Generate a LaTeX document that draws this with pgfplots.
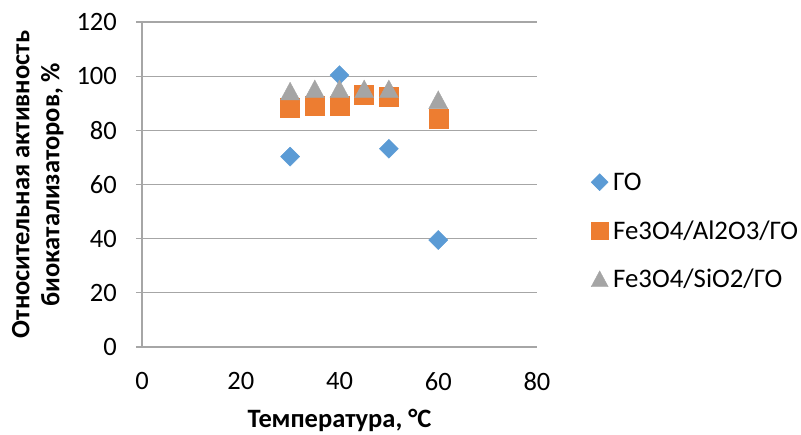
\documentclass[border=0pt]{standalone}
\usepackage{pgfplots}
\pgfplotsset{compat=1.18}
\usepackage{fontspec}
\setmainfont{Carlito}

\definecolor{goBlue}{HTML}{5B9BD5}
\definecolor{alOrange}{HTML}{ED7D31}
\definecolor{siGray}{HTML}{A5A5A5}
\definecolor{lineGray}{HTML}{A6A6A6}

% Excel-like markers
\pgfdeclareplotmark{xdiamond}{%
  \pgfpathmoveto{\pgfqpoint{0pt}{\pgfplotmarksize}}%
  \pgfpathlineto{\pgfqpoint{\pgfplotmarksize}{0pt}}%
  \pgfpathlineto{\pgfqpoint{0pt}{-\pgfplotmarksize}}%
  \pgfpathlineto{\pgfqpoint{-\pgfplotmarksize}{0pt}}%
  \pgfpathclose\pgfusepathqfillstroke}
\pgfdeclareplotmark{xtriangle}{%
  \pgfpathmoveto{\pgfqpoint{0pt}{0.93\pgfplotmarksize}}%
  \pgfpathlineto{\pgfqpoint{\pgfplotmarksize}{-0.93\pgfplotmarksize}}%
  \pgfpathlineto{\pgfqpoint{-\pgfplotmarksize}{-0.93\pgfplotmarksize}}%
  \pgfpathclose\pgfusepathqfillstroke}

\pgfplotsset{mkleg/.style={legend image code/.code={%
  \draw[mark repeat=2,mark phase=2,##1] plot coordinates {(0pt,0pt)(9.5pt,0pt)(19pt,0pt)};}}}

\begin{document}
\fontsize{26.5}{30}\selectfont
\begin{tikzpicture}
\useasboundingbox (-142pt,-87pt) rectangle (659pt,347pt);
\begin{axis}[
    scale only axis,
    width=395pt, height=325pt,
    at={(0pt,0pt)}, anchor=south west,
    xmin=0, xmax=80,
    ymin=0, ymax=120,
    xtick={0,20,...,80},
    ytick={0,20,...,120},
    axis x line*=bottom, axis y line*=left,
    axis line style={lineGray, line width=1.3pt, -},
    ymajorgrids=true,
    grid style={lineGray, line width=1.3pt},
    tick align=outside, major tick length=6pt,
    xtick style={draw=none},
    ytick style={lineGray, line width=1.3pt},
    /pgf/number format/assume math mode=true,
    yticklabel style={inner sep=0pt, xshift=-19pt},
    xticklabel style={inner sep=0pt, yshift=-19pt},
    xlabel={Температура, °C},
    ylabel={Относительная активность\\биокатализаторов, \%},
    every axis x label/.style={at={(axis description cs:0.5,-0.249)}, anchor=base, inner sep=0pt, font=\bfseries},
    every axis y label/.style={at={(axis description cs:-0.264,0.5)}, rotate=90, anchor=center, align=center, inner sep=0pt, font=\bfseries},
    clip=false,
    mark size=9.5pt,
    legend style={draw=none, fill=none,
        font=\fontsize{26.8}{30}\selectfont,
        at={(axis description cs:1.1367,0.5455)}, anchor=north west,
        inner xsep=0pt, inner ysep=0pt,
        row sep=23.7pt, column sep=5pt,
        nodes={inner sep=0pt, text height=21pt, text depth=3.6pt},
        cells={anchor=west}},
    legend image post style={mark size=8.5pt},
]
\addplot[only marks, mkleg, mark=xdiamond, color=goBlue]
    coordinates {
        (30,70.3)
        (35,91.6)
        (40,100.4)
        (50,73.2)
        (60,39.5)
    };
\addplot[only marks, mkleg, mark=square*, color=alOrange]
    coordinates {
        (30,88.3)
        (35,89.2)
        (40,89.2)
        (45,93.3)
        (50,92.3)
        (60,84.2)
    };
\addplot[only marks, mkleg, mark=xtriangle, color=siGray]
    coordinates {
        (30,94.5)
        (35,95.3)
        (40,95.3)
        (45,95.3)
        (50,95.3)
        (60,91.3)
    };
\legend{ГО, Fe3O4/Al2O3/ГО, Fe3O4/SiO2/ГО}
\end{axis}
\end{tikzpicture}
\end{document}
